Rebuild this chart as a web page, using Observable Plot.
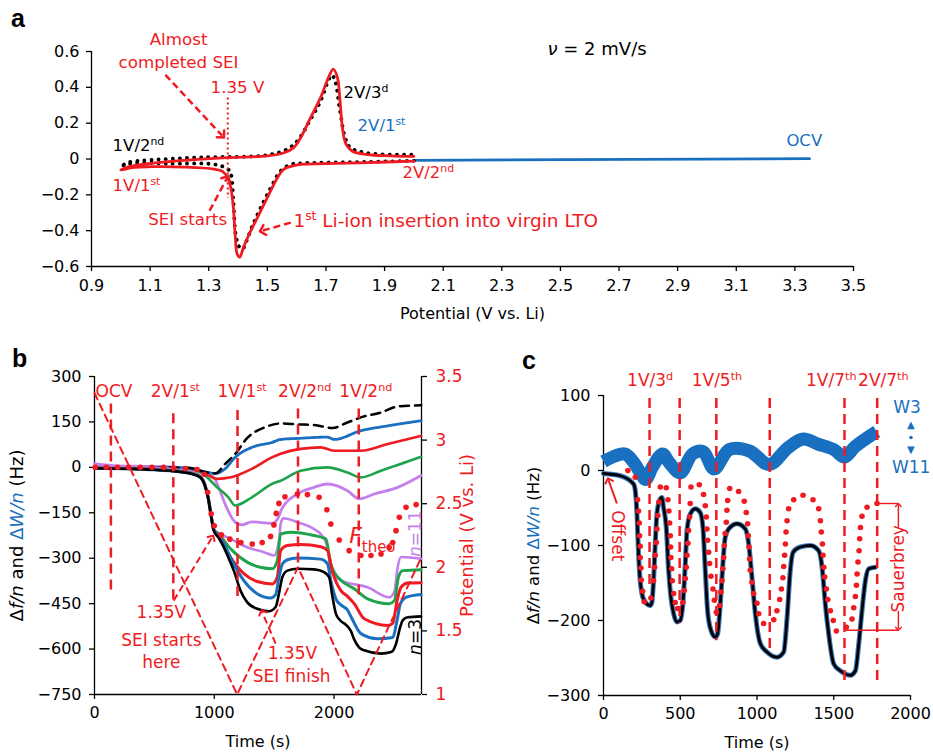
<!DOCTYPE html>
<html><head><meta charset="utf-8">
<script src="https://cdn.jsdelivr.net/npm/d3@7"></script>
<script src="https://cdn.jsdelivr.net/npm/@observablehq/plot@0.6"></script>
<style>
html,body{margin:0;padding:0;background:#fff;}
#fig{position:relative;width:933px;height:752px;overflow:hidden;background:#fff;font-family:"DejaVu Sans",sans-serif;}
.panel{position:absolute;}
.letter{position:absolute;font-family:"Liberation Sans",Arial,sans-serif;font-weight:bold;font-size:25px;line-height:1;color:#000;}
</style></head>
<body><div id="fig">
<div class="panel" id="pa" style="left:0;top:0"></div>
<div class="panel" id="pb" style="left:0;top:340px"></div>
<div class="panel" id="pc" style="left:500px;top:340px"></div>
<div class="letter" style="left:11px;top:6px">a</div>
<div class="letter" style="left:12px;top:346px">b</div>
<div class="letter" style="left:522px;top:348px">c</div>
</div>
<script>
const RED = "#f01b22", BLUE = "#1a70c0", GREEN = "#1fa34a", PURPLE = "#c47fec", BLACK = "#000000";
const FONT = "DejaVu Sans";

// ---------- Panel a: cyclic voltammogram (potential V, current) ----------
const aTicksX = [0.9, 1.1, 1.3, 1.5, 1.7, 1.9, 2.1, 2.3, 2.5, 2.7, 2.9, 3.1, 3.3, 3.5];
const aTicksY = [-0.6, -0.4, -0.2, 0, 0.2, 0.4, 0.6];
const cvOCV = [[2.0, -0.008], [2.5, -0.004], [3.0, -0.001], [3.35, 0.002]];
const cvCycle1 = [ // red, 1st cycle: 2V -> 1V -> 2V
  [2.0, -0.012], [1.84, -0.02], [1.70, -0.026], [1.614, -0.03], [1.591, -0.037], [1.557, -0.056],
  [1.535, -0.103], [1.5, -0.215], [1.466, -0.327], [1.438, -0.42], [1.418, -0.495], [1.406, -0.547],
  [1.397, -0.53], [1.39, -0.42], [1.384, -0.27], [1.375, -0.159], [1.364, -0.103], [1.347, -0.069],
  [1.318, -0.056], [1.216, -0.045], [1.102, -0.043], [1.045, -0.047], [1.0, -0.062],
  [1.02, -0.046], [1.045, -0.037], [1.102, -0.025], [1.216, -0.008], [1.364, 0.008], [1.5, 0.017],
  [1.557, 0.035], [1.591, 0.065], [1.614, 0.12], [1.648, 0.232], [1.682, 0.344], [1.71, 0.46],
  [1.725, 0.502], [1.739, 0.455], [1.748, 0.325], [1.756, 0.176], [1.768, 0.084], [1.79, 0.043],
  [1.841, 0.025], [1.92, 0.018], [2.0, 0.015]];
const cvCycle2 = [ // black dotted, 2nd cycle
  [2.0, -0.01], [1.84, -0.016], [1.70, -0.02], [1.614, -0.024], [1.58, -0.03], [1.546, -0.066],
  [1.512, -0.16], [1.478, -0.27], [1.45, -0.37], [1.428, -0.46], [1.415, -0.503], [1.404, -0.49],
  [1.392, -0.42], [1.384, -0.233], [1.375, -0.08], [1.364, -0.055], [1.318, -0.03], [1.159, -0.026],
  [1.045, -0.022], [1.011, -0.035], [1.0, -0.045],
  [1.023, -0.02], [1.102, -0.006], [1.273, 0.009], [1.5, 0.022], [1.569, 0.056], [1.603, 0.102],
  [1.648, 0.223], [1.682, 0.325], [1.71, 0.446], [1.72, 0.468], [1.731, 0.437], [1.748, 0.269],
  [1.765, 0.121], [1.782, 0.065], [1.841, 0.033], [2.0, 0.024]];
const aSEIline = [{x: 1.365, top: 0.34, bottom: -0.22}];
const aArrows = [
  {x1: 1.152, y1: 0.47, x2: 1.346, y2: 0.13},
  {x1: 1.303, y1: -0.289, x2: 1.362, y2: -0.108},
  {x1: 1.58, y1: -0.355, x2: 1.483, y2: -0.40}];
const aLabels = [
  {x: 1.197, y: 0.665, text: "Almost", c: RED, anchor: "middle", s: 16.7},
  {x: 1.197, y: 0.537, text: "completed SEI", c: RED, anchor: "middle", s: 16.7},
  {x: 1.398, y: 0.398, text: "1.35 V", c: RED, anchor: "middle", s: 16.7},
  {x: 1.228, y: -0.339, text: "SEI starts", c: RED, anchor: "middle", s: 16.7},
  {x: 0.972, y: 0.074, text: "1V/2^{nd}", c: BLACK, anchor: "start", s: 16.5},
  {x: 0.972, y: -0.149, text: "1V/1^{st}", c: RED, anchor: "start", s: 16.5},
  {x: 1.589, y: -0.344, text: "1^{st} Li-ion insertion into virgin LTO", c: RED, anchor: "start", s: 18.5},
  {x: 1.76, y: 0.369, text: "2V/3^{d}", c: BLACK, anchor: "start", s: 16.5},
  {x: 1.808, y: 0.185, text: "2V/1^{st}", c: BLUE, anchor: "start", s: 16.5},
  {x: 1.961, y: -0.076, text: "2V/2^{nd}", c: RED, anchor: "start", s: 16.5},
  {x: 3.271, y: 0.102, text: "OCV", c: BLUE, anchor: "start", s: 16.5},
  {x: 2.456, y: 0.615, text: "*ν* = 2 mV/s", c: BLACK, anchor: "start", s: 18}];

// ---------- Panel b: QCM-D during first cycles (time s, Hz) ----------
const bTicksX = [0, 1000, 2000];
const bTicksY = [-750, -600, -450, -300, -150, 0, 150, 300];
const bTicksV = [1, 1.5, 2, 2.5, 3, 3.5];   // right axis, potential (V vs. Li)
const bF3 = [[0,-3],[300,-5],[500,-8],[700,-14],[800,-20],[880,-32],[920,-58],[950,-104],[975,-164],[996,-209],
  [1040,-235],[1080,-264],[1120,-300],[1163,-341],[1219,-407],[1274,-445],[1358,-467],[1456,-475],[1512,-461],
  [1540,-417],[1568,-363],[1610,-341],[1694,-335],[1833,-337],[1917,-346],[1959,-363],[1987,-428],[2015,-483],
  [2050,-505],[2100,-520],[2140,-540],[2168,-568],[2210,-595],[2252,-604],[2392,-615],[2476,-610],[2518,-582],
  [2545,-538],[2573,-505],[2615,-495],[2727,-492]];
const bF5 = [[0,-3],[300,-5],[500,-8],[700,-14],[800,-20],[880,-32],[920,-58],[950,-104],[975,-164],[996,-208],
  [1040,-230],[1080,-253],[1163,-319],[1247,-374],[1358,-417],[1470,-431],[1512,-420],[1540,-363],[1568,-319],
  [1610,-305],[1694,-299],[1889,-303],[1945,-318],[1973,-374],[2015,-434],[2060,-455],[2110,-470],[2150,-500],
  [2224,-549],[2364,-566],[2490,-562],[2526,-505],[2554,-450],[2601,-429],[2727,-420]];
const bF7 = [[0,-2],[300,-4],[500,-7],[700,-13],[800,-19],[880,-31],[920,-57],[950,-103],[975,-163],[996,-207],
  [1040,-225],[1136,-297],[1247,-351],[1358,-377],[1484,-385],[1526,-363],[1554,-275],[1610,-258],[1722,-255],
  [1889,-262],[1945,-275],[1987,-345],[2057,-407],[2110,-425],[2168,-450],[2252,-500],[2448,-522],[2490,-515],
  [2526,-440],[2559,-396],[2615,-382],[2727,-381]];
const bF9 = [[0,-2],[300,-4],[500,-7],[700,-12],[800,-18],[880,-30],[920,-55],[950,-101],[975,-162],[996,-206],
  [1040,-222],[1136,-269],[1274,-313],[1386,-330],[1484,-335],[1526,-308],[1554,-220],[1638,-214],[1833,-225],
  [1931,-236],[1973,-320],[2000,-345],[2057,-373],[2168,-401],[2280,-434],[2462,-450],[2504,-440],[2537,-363],
  [2573,-341],[2727,-338]];
const bF11 = [[0,6],[150,4],[300,2],[500,-1],[700,-8],[800,-14],[880,-27],[920,-52],[950,-97],[975,-158],[996,-205],
  [1040,-218],[1136,-236],[1274,-264],[1414,-280],[1498,-291],[1540,-242],[1554,-187],[1575,-168],[1694,-181],
  [1889,-220],[1945,-264],[1973,-341],[2057,-373],[2280,-396],[2462,-429],[2504,-410],[2531,-330],[2559,-296],
  [2727,-302]];
const bW3 = [[0,0],[500,0],[800,-2],[900,-13],[1010,-20],[1090,11],[1174,44],[1280,99],[1420,132],[1560,145],
  [1694,142],[1833,140],[1987,130],[2112,148],[2224,165],[2392,181],[2531,201],[2727,205]];
const bW5 = [[0,0],[500,0],[800,-3],[900,-13],[1010,-20],[1090,-5],[1174,33],[1314,66],[1481,82],[1554,92],
  [1722,96],[1945,100],[2000,92],[2224,121],[2448,137],[2727,154]];
const bW7 = [[0,0],[500,-1],[800,-5],[900,-15],[1024,-38],[1140,-33],[1314,-5],[1481,33],[1554,45],[1722,61],
  [1889,66],[2000,55],[2224,55],[2448,77],[2727,104]];
const bW9 = [[0,-2],[500,-3],[800,-8],[900,-20],[1024,-66],[1118,-99],[1174,-126],[1314,-99],[1481,-55],
  [1554,-44],[1722,-11],[1945,0],[2112,-17],[2224,-33],[2392,-11],[2727,35]];
const bW11 = [[0,12],[150,6],[500,3],[800,-3],[900,-13],[996,-33],[1040,-70],[1090,-121],[1174,-181],[1230,-190],
  [1314,-180],[1480,-185],[1530,-170],[1560,-140],[1694,-88],[1833,-66],[1945,-55],[2112,-77],[2210,-104],
  [2336,-88],[2531,-66],[2727,-27]];
const bTheo = [[6,0],[98,0],[193,0],[285,0],[383,0],[480,0],[577,0],[661,-2],[759,-4],[857,-7],[917,-23],
  [945,-82],[974,-153],[1000,-193],[1060,-223],[1130,-237],[1222,-248],[1317,-253],[1400,-248],[1470,-228],
  [1498,-190],[1517,-152],[1540,-119],[1590,-97],[1694,-88],[1778,-90],[1875,-99],[1940,-140],[1973,-187],
  [2043,-240],[2126,-275],[2224,-291],[2308,-291],[2392,-286],[2460,-265],[2490,-248],[2517,-209],[2545,-165],
  [2601,-132],[2685,-123]];
const bPotential = [[0,3.37],[1191,1],[1699,2],[2190,1],[2730,2.08]];   // V vs. Li (right axis)
const bMarkers = [
  {t:137, top:209, bot:-417}, {t:658, top:177, bot:-439}, {t:1194, top:188, bot:-439},
  {t:1699, top:193, bot:-330}, {t:2206, top:193, bot:-439}];
const bTop = [
  {t:163, text:"OCV"}, {t:675, text:"2V/1^{st}"}, {t:1232, text:"1V/1^{st}"},
  {t:1755, text:"2V/2^{nd}"}, {t:2265, text:"1V/2^{nd}"}];
const bNotes = [
  {t:558, v:-478, text:"1.35V"}, {t:558, v:-571, text:"SEI starts"}, {t:558, v:-643, text:"here"},
  {t:1652, v:-615, text:"1.35V"}, {t:1646, v:-692, text:"SEI finish"}];
const bArrows = [
  {x1:661, y1:-440, x2:982, y2:-231},
  {x1:1512, y1:-582, x2:1400, y2:-478}];

// ---------- Panel c: later cycles (time s, Hz) ----------
const cTicksX = [0, 500, 1000, 1500, 2000];
const cTicksY = [-300, -200, -100, 0, 100];
const cW = [[0,12],[60,18],[140,22],[200,10],[240,-3],[275,-12],[320,5],[385,22],[430,10],[500,-3],[580,22],
  [650,25],[720,2],[820,28],[950,26],[1080,8],[1200,30],[1300,42],[1400,35],[1500,28],[1570,18],[1640,32],[1780,52]];
const cF = [[0,-4],[109,-7],[196,-18],[207,-27],[218,-58],[228,-111],[239,-147],[250,-164],[265,-173],[304,-180],
  [315,-176],[326,-147],[337,-98],[348,-58],[365,-40],[381,-36],[391,-49],[409,-76],[424,-133],[439,-169],
  [457,-191],[478,-202],[500,-200],[517,-178],[533,-124],[544,-80],[565,-58],[598,-51],[630,-56],[648,-76],
  [663,-133],[678,-187],[700,-213],[728,-222],[743,-218],[761,-178],[778,-124],[793,-89],[815,-78],[870,-71],
  [924,-78],[946,-98],[967,-142],[989,-191],[1022,-231],[1065,-242],[1130,-249],[1174,-242],[1196,-196],
  [1217,-133],[1235,-109],[1282,-102],[1348,-100],[1402,-107],[1424,-129],[1445,-178],[1467,-218],[1500,-258],
  [1543,-267],[1608,-273],[1641,-267],[1663,-231],[1684,-187],[1706,-147],[1728,-131],[1771,-129]];
const cTheo = [[159,0],[207,-9],[222,-39],[228,-54],[233,-70],[235,-87],[239,-101],[239,-116],[244,-130],[246,-146],
  [255,-161],[265,-175],[309,-170],[326,-147],[333,-129],[337,-113],[344,-96],[348,-78],[354,-60],[361,-42],
  [370,-22],[409,-23],[420,-39],[426,-54],[431,-70],[435,-87],[437,-102],[439,-116],[444,-131],[448,-147],
  [457,-164],[467,-176],[483,-184],[517,-176],[526,-160],[533,-144],[539,-129],[544,-113],[550,-97],[554,-80],
  [561,-62],[565,-44],[570,-22],[624,-19],[652,-32],[663,-47],[670,-62],[674,-78],[678,-93],[685,-109],
  [691,-124],[700,-141],[713,-158],[722,-173],[735,-189],[757,-180],[765,-162],[772,-147],[778,-131],[783,-116],
  [787,-100],[793,-84],[800,-69],[804,-53],[809,-40],[822,-24],[880,-28],[917,-41],[930,-56],[939,-71],
  [943,-87],[948,-102],[952,-118],[956,-133],[967,-149],[978,-164],[1000,-177],[1011,-191],[1043,-204],
  [1109,-199],[1130,-187],[1148,-172],[1159,-158],[1169,-143],[1174,-128],[1180,-113],[1185,-98],[1189,-82],
  [1196,-67],[1206,-51],[1239,-39],[1300,-33],[1365,-39],[1402,-51],[1413,-67],[1419,-82],[1426,-98],
  [1430,-113],[1435,-129],[1441,-142],[1452,-158],[1461,-172],[1478,-187],[1497,-200],[1517,-214],[1582,-209],
  [1619,-198],[1630,-183],[1641,-168],[1648,-153],[1652,-138],[1658,-122],[1665,-107],[1669,-91],[1674,-76],
  [1684,-61],[1717,-49],[1782,-44]];
const cMarkers = [
  {t:300, top:96, bot:-158}, {t:496, top:96, bot:-204}, {t:735, top:96, bot:-227},
  {t:1083, top:96, bot:-242}, {t:1570, top:96, bot:-280}, {t:1783, top:96, bot:-280}];
const cTop = [
  {t:304, text:"1V/3^{d}"}, {t:739, text:"1V/5^{th}"}, {t:1484, text:"1V/7^{th}"}, {t:1823, text:"2V/7^{th}"}];
const cBlueNotes = [{t:1978, v:84, text:"W3"}, {t:2004, v:4, text:"W11"}];
const cBlueArrows = [{t:2003, v:61, text:"▲"}, {t:2003, v:27, text:"▼"}];
const cBlueDot = [{t:2003, v:44}];
const cOffset = [{t:89, v:-87, text:"Offset"}];
const cOffsetArrow = [{x1:87, y1:-44, x2:33, y2:-13}];
const cSauer = [{t:1921, v:-131, text:"Sauerbrey"}];
const cSauerLines = [{v:-44, x1:1783, x2:1921}, {v:-213, x1:1582, x2:1921}];
const cSauerArrows = [{x1:1921, y1:-76, x2:1921, y2:-46}, {x1:1921, y1:-187, x2:1921, y2:-211}];

// ---------- helpers ----------
const X = d => d[0], Y = d => d[1];
const signed = (d, k) => (d < 0 ? "\u2212" : "") + Math.abs(d).toFixed(k);
const styleBase = {fontFamily: FONT, fontSize: "16px", color: "#000", background: "transparent", overflow: "visible"};

function rich(svg) {
  d3.select(svg).selectAll("text").each(function () {
    if (this.querySelector("tspan")) return;
    const s = this.textContent;
    if (!/[\^_*~]/.test(s)) return;
    const el = d3.select(this); el.text(null);
    let it = false, bl = false, mode = null, buf = "";
    const flush = () => {
      if (!buf) return;
      const sp = el.append("tspan").text(buf);
      if (it) sp.attr("font-style", "italic");
      if (bl) sp.attr("fill", BLUE);
      if (mode === "sup") sp.attr("baseline-shift", "super").attr("font-size", "0.66em");
      if (mode === "sub") sp.attr("baseline-shift", "sub").attr("font-size", "0.68em");
      buf = "";
    };
    for (let i = 0; i < s.length; i++) {
      const ch = s[i];
      if (ch === "*") { flush(); it = !it; }
      else if (ch === "~") { flush(); bl = !bl; }
      else if ((ch === "^" || ch === "_") && s[i + 1] === "{") { flush(); mode = ch === "^" ? "sup" : "sub"; i++; }
      else if (ch === "}" && mode) { flush(); mode = null; }
      else buf += ch;
    }
    flush();
  });
  d3.select(svg).selectAll("marker").attr("stroke-dasharray", "none");
  return svg;
}

// ---------- Panel a ----------
const pa = Plot.plot({
  width: 933, height: 330, marginLeft: 91, marginRight: 80, marginTop: 51, marginBottom: 64,
  x: {domain: [0.9, 3.5], label: null}, y: {domain: [-0.6, 0.6], label: null},
  color: {type: "identity"},
  style: styleBase,
  marks: [
    Plot.ruleX([0.9], {y1: -0.6, y2: 0.6, strokeWidth: 1.3}),
    Plot.ruleY([-0.6], {x1: 0.9, x2: 3.5, strokeWidth: 1.3}),
    Plot.axisY(aTicksY, {tickSize: 5, tickPadding: 7, strokeWidth: 1.3, label: null, tickFormat: d => d === 0 ? "0" : signed(d, 1)}),
    Plot.axisX(aTicksX, {tickSize: 5, tickPadding: 8, strokeWidth: 1.3, label: null, tickFormat: d => d.toFixed(1)}),
    Plot.line(cvOCV, {x: X, y: Y, stroke: BLUE, strokeWidth: 2.8}),
    Plot.line(cvCycle2, {x: X, y: Y, stroke: BLACK, strokeWidth: 3.8, strokeDasharray: "0.1,7", strokeLinecap: "round", curve: "catmull-rom"}),
    Plot.line(cvCycle1, {x: X, y: Y, stroke: RED, strokeWidth: 2.8, curve: "catmull-rom"}),
    Plot.ruleX(aSEIline, {x: "x", y1: "top", y2: "bottom", stroke: RED, strokeWidth: 2, strokeDasharray: "2,3"}),
    Plot.link(aArrows, {x1: "x1", y1: "y1", x2: "x2", y2: "y2", stroke: RED, strokeWidth: 2.5, strokeDasharray: "7,4", markerEnd: "arrow"}),
    Plot.text(aLabels, {filter: d => d.anchor === "middle", x: "x", y: "y", text: "text", fill: "c", fontSize: "s", textAnchor: "middle"}),
    Plot.text(aLabels, {filter: d => d.anchor === "start", x: "x", y: "y", text: "text", fill: "c", fontSize: "s", textAnchor: "start"}),
    Plot.text(["Potential (V vs. Li)"], {frameAnchor: "bottom", dy: 47, lineAnchor: "middle", textAnchor: "middle", fontSize: 16})
  ]
});
document.getElementById("pa").appendChild(rich(pa));

// ---------- Panel b ----------
const toLeft = v => -750 + (v - 1) * 420;
const fromLeft = d => (d + 750) / 420 + 1;
const bTicksVmapped = bTicksV.map(toLeft);
const lineB = (data, color, extra = {}) => Plot.line(data, {x: X, y: Y, stroke: color, strokeWidth: 2.5, curve: "monotone-x", ...extra});
const pb = Plot.plot({
  width: 500, height: 412, marginLeft: 94, marginRight: 79, marginTop: 36, marginBottom: 58,
  x: {domain: [0, 2730], label: null}, y: {domain: [-750, 300], label: null},
  color: {type: "identity"},
  style: styleBase,
  marks: [
    Plot.ruleX([0, 2730], {y1: -750, y2: 300, strokeWidth: 1.3}),
    Plot.ruleY([-750], {x1: 0, x2: 2730, strokeWidth: 1.3}),
    Plot.axisY(bTicksY, {tickSize: 5, tickPadding: 8, strokeWidth: 1.3, label: null, tickFormat: d => signed(d, 0)}),
    Plot.axisY(bTicksVmapped, {anchor: "right", tickSize: 5, strokeWidth: 1.3, label: null, tickFormat: () => ""}),
    Plot.axisY(bTicksVmapped, {anchor: "right", tickSize: 0, tickPadding: 14, label: null, color: RED, fontSize: 17, tickFormat: d => String(Math.round(fromLeft(d) * 10) / 10)}),
    Plot.axisX(bTicksX, {tickSize: 5, tickPadding: 7, strokeWidth: 1.3, label: null, tickFormat: d => String(d)}),
    lineB(bW11, PURPLE, {strokeWidth: 2.8}),
    lineB(bW9, GREEN, {strokeWidth: 2.6}),
    lineB(bW7, RED, {strokeWidth: 2.6}),
    lineB(bW5, BLUE, {strokeWidth: 2.8, strokeDasharray: "3,1"}),
    lineB(bW3, BLACK, {strokeDasharray: "9,6"}),
    lineB(bF11, PURPLE, {strokeWidth: 2.6}),
    lineB(bF9, GREEN, {strokeWidth: 3}),
    lineB(bF7, RED, {strokeWidth: 3}),
    lineB(bF5, BLUE, {strokeWidth: 3}),
    lineB(bF3, BLACK, {strokeWidth: 2.6}),
    Plot.line(bPotential, {x: X, y: d => toLeft(d[1]), stroke: RED, strokeWidth: 2, strokeDasharray: "7,5"}),
    Plot.ruleX(bMarkers, {x: "t", y1: "top", y2: "bot", stroke: RED, strokeWidth: 2.5, strokeDasharray: "10,6"}),
    Plot.dot(bTheo, {x: X, y: Y, r: 2.8, fill: RED, stroke: null}),
    Plot.link(bArrows, {x1: "x1", y1: "y1", x2: "x2", y2: "y2", stroke: RED, strokeWidth: 2, strokeDasharray: "7,4", markerEnd: "arrow"}),
    Plot.text(bTop, {x: "t", y: () => 250, text: "text", fill: RED, fontSize: 17, textAnchor: "middle"}),
    Plot.text(bNotes, {x: "t", y: "v", text: "text", fill: RED, fontSize: 17, textAnchor: "middle"}),
    Plot.text(["*F*_{theo}"], {x: () => 2126, y: () => -228, fill: RED, fontSize: 22, textAnchor: "start"}),
    Plot.text(["*n*=11"], {x: () => 2683, y: () => -219, fill: PURPLE, fontSize: 17, rotate: -90, textAnchor: "middle"}),
    Plot.text(["*n*=3"], {x: () => 2683, y: () => -560, fill: BLACK, fontSize: 17, rotate: -90, textAnchor: "middle"}),
    Plot.text(["Time (s)"], {frameAnchor: "bottom", dy: 47, lineAnchor: "middle", textAnchor: "middle", fontSize: 16}),
    Plot.text(["Δ*f/n* and ~Δ*W/n*~ (Hz)"], {frameAnchor: "left", dx: -77, rotate: -90, lineAnchor: "middle", textAnchor: "middle", fontSize: 18}),
    Plot.text(["Potential (V vs. Li)"], {frameAnchor: "right", dx: 46, rotate: -90, lineAnchor: "middle", textAnchor: "middle", fontSize: 18, fill: RED})
  ]
});
document.getElementById("pb").appendChild(rich(pb));

// ---------- Panel c ----------
const pc = Plot.plot({
  width: 433, height: 412, marginLeft: 103, marginRight: 23, marginTop: 55, marginBottom: 57,
  x: {domain: [0, 2000], label: null}, y: {domain: [-300, 100], label: null},
  color: {type: "identity"},
  style: styleBase,
  marks: [
    Plot.ruleX([0], {y1: -300, y2: 100, strokeWidth: 1.3}),
    Plot.ruleY([-300], {x1: 0, x2: 2000, strokeWidth: 1.3}),
    Plot.axisY(cTicksY, {tickSize: 5, tickPadding: 8, strokeWidth: 1.3, label: null, tickFormat: d => signed(d, 0)}),
    Plot.axisX(cTicksX, {tickSize: 5, tickPadding: 7, strokeWidth: 1.3, label: null, tickFormat: d => String(d)}),
    Plot.line(cW, {x: X, y: Y, stroke: BLUE, strokeWidth: 13, strokeLinecap: "butt", curve: "catmull-rom"}),
    Plot.line(cF, {x: X, y: Y, stroke: "#3b7cc0", strokeWidth: 5, curve: "monotone-x"}),
    Plot.line(cF, {x: X, y: Y, stroke: BLACK, strokeWidth: 2.8, curve: "monotone-x"}),
    Plot.ruleX(cMarkers, {x: "t", y1: "top", y2: "bot", stroke: RED, strokeWidth: 2.5, strokeDasharray: "10,6"}),
    Plot.dot(cTheo, {x: X, y: Y, r: 2.8, fill: RED, stroke: null}),
    Plot.text(cTop, {x: "t", y: () => 120, text: "text", fill: RED, fontSize: 17, textAnchor: "middle"}),
    Plot.text(cBlueNotes, {x: "t", y: "v", text: "text", fill: BLUE, fontSize: 17, textAnchor: "middle"}),
    Plot.text(cBlueArrows, {x: "t", y: "v", text: "text", fill: BLUE, fontSize: 10, textAnchor: "middle"}),
    Plot.dot(cBlueDot, {x: "t", y: "v", r: 1.8, fill: BLUE, stroke: null}),
    Plot.text(cOffset, {x: "t", y: "v", text: "text", fill: RED, fontSize: 17, rotate: 90, textAnchor: "middle"}),
    Plot.link(cOffsetArrow, {x1: "x1", y1: "y1", x2: "x2", y2: "y2", stroke: RED, strokeWidth: 2, markerEnd: "arrow"}),
    Plot.ruleY(cSauerLines, {y: "v", x1: "x1", x2: "x2", stroke: RED, strokeWidth: 1.4}),
    Plot.link(cSauerArrows, {x1: "x1", y1: "y1", x2: "x2", y2: "y2", stroke: RED, strokeWidth: 1.4, markerEnd: "arrow"}),
    Plot.text(cSauer, {x: "t", y: "v", text: "text", fill: RED, fontSize: 17, rotate: -90, textAnchor: "middle"}),
    Plot.text(["Time (s)"], {frameAnchor: "bottom", dy: 47, lineAnchor: "middle", textAnchor: "middle", fontSize: 16}),
    Plot.text(["Δ*f/n* and ~Δ*W/n*~ (Hz)"], {frameAnchor: "left", dx: -70, rotate: -90, lineAnchor: "middle", textAnchor: "middle", fontSize: 16.5})
  ]
});
document.getElementById("pc").appendChild(rich(pc));
</script>
</body></html>
